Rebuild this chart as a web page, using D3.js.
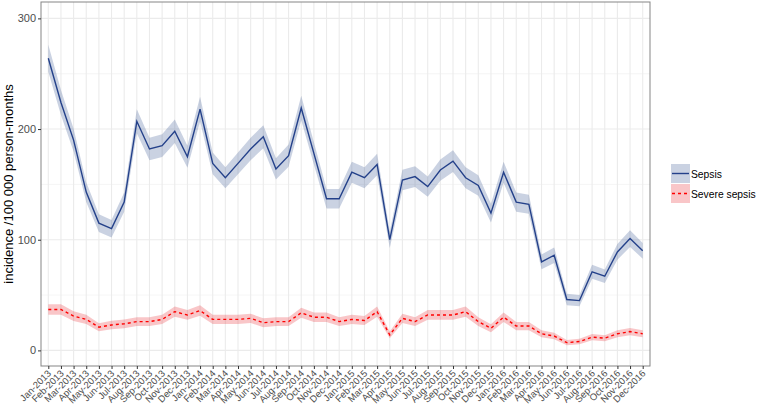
<!DOCTYPE html>
<html>
<head>
<meta charset="utf-8">
<script src="https://cdn.jsdelivr.net/npm/d3@7"></script>
<style>
  html, body { margin: 0; padding: 0; background: #fff; }
  svg { display: block; font-family: "Liberation Sans", Arial, Helvetica, sans-serif; }
</style>
</head>
<body>
<svg id="chart" width="757" height="409"></svg>
<script>
const months = ["Jan-2013","Feb-2013","Mar-2013","Apr-2013","May-2013","Jun-2013","Jul-2013","Aug-2013","Sep-2013","Oct-2013","Nov-2013","Dec-2013",
  "Jan-2014","Feb-2014","Mar-2014","Apr-2014","May-2014","Jun-2014","Jul-2014","Aug-2014","Sep-2014","Oct-2014","Nov-2014","Dec-2014",
  "Jan-2015","Feb-2015","Mar-2015","Apr-2015","May-2015","Jun-2015","Jul-2015","Aug-2015","Sep-2015","Oct-2015","Nov-2015","Dec-2015",
  "Jan-2016","Feb-2016","Mar-2016","Apr-2016","May-2016","Jun-2016","Jul-2016","Aug-2016","Sep-2016","Oct-2016","Nov-2016","Dec-2016"];

const sepsis = [264,224,190,143,115,110,134,207,182,185,198,175,
  218,169,156,169,182,193,164,176,219,178,137,137,
  161,156,168,100,154,157,148,163,171,156,149,124,
  161,134,132,80,86,46,45,71,67,89,101,90];
const sepsisHalfCI = [12.2,11.2,10.3,9.0,8.0,7.9,8.7,10.8,10.1,10.2,10.6,9.9,
  11.1,9.8,9.4,9.8,10.1,10.4,9.6,10.0,11.1,10.0,8.8,8.8,
  9.5,9.4,9.7,7.5,9.3,9.4,9.1,9.6,9.8,9.4,9.2,8.4,
  9.5,8.7,8.6,6.7,7.0,5.1,5.0,6.3,6.1,7.1,7.5,7.1];

const severe = [37,37,31,28,21,23,24,26,26,28,35,32,
  36,28,28,28,29,25,26,26,34,30,30,26,
  28,27,35,14,29,26,32,32,32,35,26,20,
  30,22,22,15,13,7,8,12,11,15,17,15];
const severeHalfCI = [4.8,4.8,4.4,4.2,3.6,3.8,3.9,4.0,4.0,4.2,4.6,4.4,
  4.7,4.2,4.2,4.2,4.2,4.0,4.0,4.0,4.6,4.3,4.3,4.0,
  4.2,4.1,4.6,3.0,4.2,4.0,4.4,4.4,4.4,4.6,4.0,3.6,
  4.3,3.7,3.7,3.1,2.9,2.4,2.5,2.8,2.7,3.1,3.3,3.1];

const yTicks = [0, 100, 200, 300];
const yMinor = [50, 150, 250];
const seriesNames = ["Sepsis", "Severe sepsis"];

const svg = d3.select("#chart");
const panel = {left: 41, top: 2, right: 650, bottom: 366};

const x = d3.scalePoint().domain(months).range([48.3, 642.7]);
const y = d3.scaleLinear().domain([-14.1, 314.8]).range([panel.bottom, panel.top]);

const g = svg.append("g");

g.append("rect").attr("x", panel.left).attr("y", panel.top)
  .attr("width", panel.right - panel.left).attr("height", panel.bottom - panel.top)
  .attr("fill", "#fff");

g.selectAll(".yminor").data(yMinor).enter().append("line")
  .attr("x1", panel.left).attr("x2", panel.right)
  .attr("y1", d => y(d)).attr("y2", d => y(d))
  .attr("stroke", "#f2f2f2").attr("stroke-width", 0.8);
g.selectAll(".ymajor").data(yTicks).enter().append("line")
  .attr("x1", panel.left).attr("x2", panel.right)
  .attr("y1", d => y(d)).attr("y2", d => y(d))
  .attr("stroke", "#ebebeb").attr("stroke-width", 1.1);
g.selectAll(".xmajor").data(months).enter().append("line")
  .attr("x1", d => x(d)).attr("x2", d => x(d))
  .attr("y1", panel.top).attr("y2", panel.bottom)
  .attr("stroke", "#ebebeb").attr("stroke-width", 1.1);

function drawSeries(vals, half, lineColor, fillColor, fillOpacity, dash) {
  const data = months.map((m, i) => ({m, v: vals[i], lo: vals[i] - half[i], hi: vals[i] + half[i]}));
  g.append("path").datum(data)
    .attr("d", d3.area().x(d => x(d.m)).y0(d => y(d.lo)).y1(d => y(d.hi)))
    .attr("fill", fillColor).attr("fill-opacity", fillOpacity);
  g.append("path").datum(data)
    .attr("d", d3.line().x(d => x(d.m)).y(d => y(d.v)))
    .attr("fill", "none").attr("stroke", lineColor).attr("stroke-width", 1.4)
    .attr("stroke-dasharray", dash);
}
drawSeries(sepsis, sepsisHalfCI, "#24418a", "#2b4a8b", 0.25, null);
drawSeries(severe, severeHalfCI, "#ff0000", "#e8333b", 0.28, "3,3");

g.append("rect").attr("x", panel.left).attr("y", panel.top)
  .attr("width", panel.right - panel.left).attr("height", panel.bottom - panel.top)
  .attr("fill", "none").attr("stroke", "#858585").attr("stroke-width", 1);

const yAxis = d3.axisLeft(y).tickValues(yTicks).tickSize(3).tickPadding(2);
const ya = svg.append("g").attr("transform", `translate(${panel.left},0)`).call(yAxis);
ya.select(".domain").remove();
ya.selectAll(".tick line").attr("stroke", "#333");
ya.selectAll(".tick text").attr("fill", "#4d4d4d").style("font-size", "11px");

const xAxis = d3.axisBottom(x).tickSize(3).tickPadding(2);
const xa = svg.append("g").attr("transform", `translate(0,${panel.bottom})`).call(xAxis);
xa.select(".domain").remove();
xa.selectAll(".tick line").attr("stroke", "#333");
xa.selectAll(".tick text").attr("fill", "#4d4d4d").style("font-size", "9.5px")
  .attr("text-anchor", "end").attr("dy", null).attr("y", 0)
  .attr("transform", "translate(3,8) rotate(-45)");

svg.append("text").attr("transform", `translate(13,${(panel.top + panel.bottom) / 2}) rotate(-90)`)
  .attr("text-anchor", "middle").attr("fill", "#000").style("font-size", "13px")
  .text("incidence /100 000 person-months");

const legend = svg.append("g").attr("transform", "translate(671,164)");
const keys = [
  {name: seriesNames[0], line: "#24418a", fill: "#2b4a8b", op: 0.25, dash: null},
  {name: seriesNames[1], line: "#ff0000", fill: "#e8333b", op: 0.28, dash: "3,3"}
];
keys.forEach((k, i) => {
  const gy = i * 20;
  legend.append("rect").attr("x", 0).attr("y", gy).attr("width", 19).attr("height", 19)
    .attr("fill", "#fff");
  legend.append("rect").attr("x", 0).attr("y", gy).attr("width", 19).attr("height", 19)
    .attr("fill", k.fill).attr("fill-opacity", k.op);
  legend.append("line").attr("x1", 1).attr("x2", 18).attr("y1", gy + 9.5).attr("y2", gy + 9.5)
    .attr("stroke", k.line).attr("stroke-width", 1.4).attr("stroke-dasharray", k.dash);
  legend.append("text").attr("x", 20).attr("y", gy + 13.5).attr("fill", "#000")
    .style("font-size", "10.3px").text(k.name);
});
</script>
</body>
</html>
